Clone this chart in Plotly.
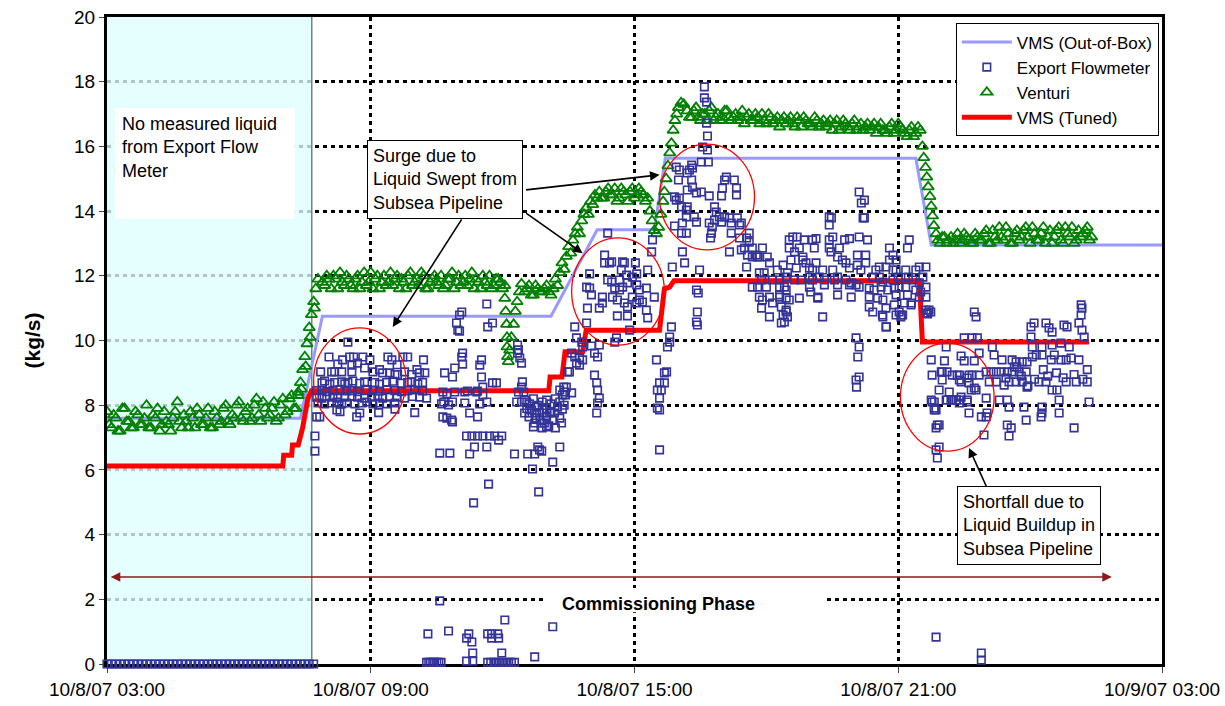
import pandas as pd
import plotly.graph_objects as go

# Time origin of the record: hours below are measured from 10/8/07 03:00
T0 = pd.Timestamp("2007-10-08 03:00")


def ts(h):
    return (T0 + pd.Timedelta(hours=h)).strftime("%Y-%m-%d %H:%M:%S")


# ---------------- VMS (Out-of-Box) ----------------
OOB_H = [0.0, 4.4, 4.9, 10.1, 11.15, 12.45, 12.7, 18.4, 18.75, 24.0]
OOB_V = [7.6, 7.6, 10.75, 10.75, 13.42, 13.42, 15.63, 15.63, 12.95, 12.95]

# ---------------- VMS (Tuned) ----------------
TUNED_H = [0.0, 4.0, 4.02, 4.2, 4.22, 4.35, 4.45, 4.5, 4.57, 4.65, 10.05, 10.08,
           10.35, 10.42, 10.82, 10.9, 12.57, 12.68, 12.8, 12.9, 18.48, 18.55, 22.34]
TUNED_V = [6.12, 6.12, 6.45, 6.45, 6.77, 6.77, 7.3, 7.7, 8.2, 8.45, 8.45, 8.87,
           8.87, 9.65, 9.65, 10.32, 10.32, 11.6, 11.65, 11.85, 11.85, 9.95, 9.95]

# ---------------- Venturi ----------------
# steady periods are logged every 6 minutes; the "_B" lists are the
# readings taken 3 minutes after each of the main samples
VENT_SAMPLE_H = 0.1
VENT_BASE_START = 0.0
VENT_BASE = [7.8, 7.3, 7.6, 7.2, 7.9, 7.5, 7.3, 7.7, 7.4, 8.0,
             7.3, 7.6, 7.2, 7.8, 7.4, 7.6, 8.1, 7.3, 7.5, 7.8,
             7.3, 7.7, 7.4, 7.9, 7.3, 7.6, 7.5, 8.0, 7.4, 7.6,
             8.1, 7.5, 7.9, 7.6, 8.2, 7.5, 7.9, 7.7, 8.1, 7.6,
             8.2, 7.8, 8.3, 7.9]
VENT_BASE_B_START = 0.05
VENT_BASE_B = [7.4, 7.7, 7.2, 7.9, 7.5, 7.3, 7.8, 7.4, 7.6, 7.3,
               7.7, 7.9, 7.4, 7.5, 7.2, 7.8, 7.5, 7.7, 7.3, 7.6,
               7.9, 7.4, 7.6, 7.3, 7.8, 7.4, 7.9, 7.5, 7.7, 8.0,
               7.6, 7.8, 7.5, 8.0, 7.7, 8.1, 7.6, 7.9, 7.5, 8.0,
               7.7, 8.2, 7.9, 8.4]
VENT_HIGH1_START = 4.9
VENT_HIGH1 = [11.8, 12.0, 11.6, 11.9, 12.1, 11.7, 11.9, 11.6, 12.0, 11.8,
              11.7, 12.1, 11.9, 11.6, 12.0, 11.8, 11.7, 12.0, 11.9, 11.6,
              12.1, 11.8, 11.7, 12.0, 11.6, 11.9, 11.8, 12.0, 11.7, 11.9,
              11.6, 12.0, 11.8, 11.7, 12.1, 11.9, 11.6, 11.8, 12.0, 11.7,
              11.9, 11.6]
VENT_HIGH1_B_START = 4.95
VENT_HIGH1_B = [11.7, 11.9, 12.0, 11.6, 11.8, 12.0, 11.7, 11.9, 11.6, 12.1,
                11.8, 11.6, 12.0, 11.8, 11.7, 12.1, 11.9, 11.6, 11.8, 12.0,
                11.7, 11.9, 12.1, 11.6, 11.8, 12.0, 11.7, 11.6, 11.9, 12.1,
                11.8, 11.7, 12.0, 11.9, 11.6, 11.8, 12.0, 11.7, 11.6, 11.9,
                11.8, 11.7]
VENT_MID_START = 9.5
VENT_MID = [11.5, 11.7, 11.4, 11.6, 11.5, 11.7, 11.4]
VENT_MID_B_START = 9.55
VENT_MID_B = [11.6, 11.4, 11.7, 11.5, 11.6, 11.5]
VENT_HIGH2_START = 11.2
VENT_HIGH2 = [14.6, 14.4, 14.7, 14.5, 14.3, 14.7, 14.5, 14.6, 14.4, 14.7, 14.5, 14.4]
VENT_HIGH2_B_START = 11.25
VENT_HIGH2_B = [14.4, 14.6, 14.5, 14.7, 14.4, 14.6, 14.3, 14.7, 14.5, 14.6, 14.3]
VENT_PEAK_START = 13.2
VENT_PEAK = [17.1, 16.9, 17.2, 16.8, 17.0, 17.1, 16.8, 17.0, 16.9, 17.1,
             16.8, 17.0, 16.9, 16.7, 17.0, 16.8, 16.9, 17.0, 16.7, 16.9,
             16.8, 16.6, 16.9, 16.8, 16.7, 16.9, 16.6, 16.8, 16.7, 16.9,
             16.6, 16.8, 16.7, 16.5, 16.8, 16.6, 16.7, 16.5, 16.8, 16.6,
             16.5, 16.7, 16.6, 16.4, 16.7, 16.5, 16.6, 16.4, 16.7, 16.5,
             16.3, 16.6, 16.4, 16.5]
VENT_PEAK_B_START = 13.25
VENT_PEAK_B = [16.9, 17.1, 16.9, 17.0, 16.8, 17.2, 16.9, 16.8, 17.1, 16.9,
               16.9, 16.8, 17.1, 16.9, 16.8, 17.0, 16.7, 16.8, 17.0, 16.7,
               16.9, 16.8, 16.7, 16.9, 16.6, 16.8, 16.9, 16.7, 16.6, 16.8,
               16.7, 16.6, 16.8, 16.7, 16.5, 16.8, 16.6, 16.7, 16.5, 16.7,
               16.6, 16.5, 16.7, 16.6, 16.5, 16.4, 16.7, 16.5, 16.6, 16.4,
               16.5, 16.3, 16.6]
VENT_LOW_START = 18.9
VENT_LOW = [13.1, 13.2, 13.0, 13.2, 13.1, 13.0, 13.3, 13.1, 13.0, 13.2,
            13.1, 13.4, 13.0, 13.2, 13.5, 13.1, 13.3, 13.0, 13.4, 13.2,
            13.5, 13.0, 13.3, 13.1, 13.5, 13.2, 13.0, 13.4, 13.1, 13.5,
            13.2, 13.0, 13.4, 13.3, 13.5, 13.2]
VENT_LOW_B_START = 18.95
VENT_LOW_B = [13.0, 13.2, 13.1, 13.0, 13.3, 13.1, 13.2, 13.0, 13.3, 13.1,
              13.3, 13.0, 13.4, 13.1, 13.2, 13.5, 13.0, 13.3, 13.1, 13.4,
              13.2, 13.5, 13.1, 13.3, 13.0, 13.4, 13.2, 13.5, 13.0, 13.3,
              13.5, 13.1, 13.2, 13.4, 13.1]
# transients (hour, kg/s)
VENT_RAMP1 = [(4.35, 8.3), (4.40, 8.7), (4.45, 9.1), (4.50, 9.5), (4.55, 9.9),
              (4.60, 10.4), (4.65, 10.8), (4.70, 11.2), (4.75, 11.6), (4.80, 11.9),
              (4.42, 8.5), (4.52, 9.2), (4.62, 10.1), (4.72, 11.0)]
VENT_DIP1 = [(9.05, 11.3), (9.07, 10.9), (9.09, 10.5), (9.10, 10.1), (9.10, 9.8),
             (9.11, 9.5), (9.13, 9.35), (9.16, 9.7), (9.20, 10.1), (9.25, 10.5),
             (9.29, 10.9), (9.33, 11.2), (9.38, 11.5), (9.43, 11.75)]
VENT_RAMP2 = [(10.15, 11.6), (10.2, 11.9), (10.25, 11.7), (10.3, 12.1), (10.35, 12.4),
              (10.4, 12.2), (10.45, 12.6), (10.5, 12.9), (10.55, 12.7), (10.6, 13.1),
              (10.65, 13.3), (10.7, 13.5), (10.75, 13.3), (10.8, 13.7), (10.85, 13.9),
              (10.9, 14.1), (10.95, 13.9), (11.0, 14.3), (11.05, 14.2), (11.1, 14.5),
              (11.15, 14.4)]
VENT_RAMP3 = [(12.35, 14.0), (12.4, 13.7), (12.45, 13.4), (12.5, 13.3), (12.55, 13.5),
              (12.6, 13.9), (12.65, 14.3), (12.68, 14.6), (12.72, 15.0), (12.76, 15.4),
              (12.8, 15.8), (12.84, 16.1), (12.88, 16.5), (12.92, 16.8), (12.96, 17.0),
              (13.0, 17.2), (13.06, 17.35), (13.12, 17.3)]
VENT_DROP = [(18.55, 16.0), (18.58, 15.65), (18.62, 15.35), (18.65, 15.05), (18.68, 14.75),
             (18.72, 14.45), (18.75, 14.15), (18.78, 13.85), (18.81, 13.55), (18.86, 13.3)]

# ---------------- Export Flowmeter ----------------
FLOW_OFFLINE_START = 0.0
FLOW_OFFLINE_STEP = 0.1
FLOW_OFFLINE = [0.0, 0.0, 0.0, 0.0, 0.0, 0.0, 0.0, 0.0, 0.0, 0.0, 0.0, 0.0,
                0.0, 0.0, 0.0, 0.0, 0.0, 0.0, 0.0, 0.0, 0.0, 0.0, 0.0, 0.0,
                0.0, 0.0, 0.0, 0.0, 0.0, 0.0, 0.0, 0.0, 0.0, 0.0, 0.0, 0.0,
                0.0, 0.0, 0.0, 0.0, 0.0, 0.0, 0.0, 0.0, 0.0, 0.0, 0.0, 0.0]

FLOW_SURGE1 = [
    (4.73, 7.05), (4.73, 6.58), (4.77, 7.64), (4.84, 7.64),
    (5.05, 9.49), (5.48, 9.95), (5.36, 9.40), (5.52, 9.49), (5.61, 9.49), (5.82, 9.49),
    (5.98, 9.40), (6.39, 9.49), (6.48, 9.40), (6.73, 9.49), (6.84, 9.49), (7.20, 9.40),
    (5.25, 9.27), (5.57, 9.24), (5.70, 9.30), (5.86, 9.15), (6.60, 9.25),
    (4.86, 9.03), (5.11, 9.03), (5.18, 9.03), (5.34, 9.03), (5.57, 9.03), (6.05, 9.03),
    (6.20, 9.10), (6.27, 9.00), (6.43, 9.00), (6.55, 8.95), (6.61, 8.95), (6.77, 9.03),
    (6.93, 8.95), (7.05, 9.10), (7.11, 9.00), (7.23, 9.00),
    (4.89, 8.69), (4.95, 8.75), (5.07, 8.65), (5.18, 8.70), (5.34, 8.72), (5.41, 8.66),
    (5.48, 8.70), (5.59, 8.75), (5.75, 8.68), (5.86, 8.72), (6.09, 8.70), (6.20, 8.65),
    (6.36, 8.70), (6.50, 8.74), (6.70, 8.68), (6.84, 8.70), (6.93, 8.72), (7.07, 8.66),
    (7.18, 8.70),
    (4.77, 8.45), (4.89, 8.47), (5.00, 8.42), (5.14, 8.45), (5.30, 8.48), (5.45, 8.44),
    (5.57, 8.45), (5.70, 8.42), (5.91, 8.47), (6.05, 8.45), (6.20, 8.44), (6.36, 8.48),
    (6.55, 8.45), (6.70, 8.42), (6.84, 8.45), (7.00, 8.47), (7.18, 8.44),
    (4.77, 8.25), (4.89, 8.22), (5.00, 8.27), (5.14, 8.25), (5.25, 8.22), (5.41, 8.25),
    (5.57, 8.28), (5.70, 8.25), (5.86, 8.22), (6.02, 8.25), (6.16, 8.27), (6.27, 8.22),
    (6.43, 8.25), (6.59, 8.25), (6.77, 8.22), (6.95, 8.27), (7.11, 8.25), (7.27, 8.22),
    (4.80, 8.07), (4.95, 8.04), (5.11, 8.07), (5.23, 8.10), (5.34, 8.04), (5.45, 8.07),
    (5.64, 8.04), (5.80, 8.07), (5.91, 8.10), (6.05, 8.04), (6.20, 8.07), (6.36, 8.04),
    (6.55, 8.07),
    (5.23, 7.85), (5.30, 7.80), (5.75, 7.76), (5.68, 7.64), (6.18, 7.77), (6.55, 7.88),
    (7.00, 7.77),
]

FLOW_MID = [
    (7.95, 10.54), (7.98, 10.32), (8.02, 10.29), (8.02, 10.79), (8.07, 10.88), (8.64, 11.13),
    (8.66, 10.42), (8.77, 10.54),
    (8.09, 9.61), (8.07, 9.49), (8.09, 9.27), (8.52, 9.40), (8.48, 9.24),
    (7.68, 9.00), (7.91, 9.15), (7.86, 8.87), (8.52, 8.87), (8.55, 8.56), (8.77, 8.69),
    (8.86, 8.69),
    (7.64, 8.41), (7.73, 8.35), (7.91, 8.41), (8.14, 8.41), (8.20, 8.44), (8.41, 8.41),
    (8.43, 8.44), (8.55, 8.32),
    (7.61, 8.04), (7.66, 8.10), (7.77, 8.01), (7.86, 8.10), (8.14, 8.07), (8.48, 8.04),
    (8.64, 8.10),
    (7.64, 7.64), (7.73, 7.60), (7.84, 7.54), (7.86, 7.48), (8.25, 7.76), (8.43, 7.64),
    (8.18, 7.05), (8.30, 7.05), (8.43, 7.05), (8.55, 7.05), (8.70, 7.05), (8.82, 7.05),
    (8.98, 7.05), (8.91, 6.92),
    (7.57, 6.52), (7.80, 6.52), (8.25, 6.49), (8.36, 6.71), (8.64, 6.71), (8.34, 4.98),
    (8.68, 5.56),
    (9.27, 6.49), (9.57, 6.49), (9.73, 6.49), (9.80, 6.71), (9.89, 6.58), (9.68, 6.03),
    (9.82, 5.32),
    (9.34, 9.86), (9.36, 9.71), (9.34, 9.61), (9.39, 9.46), (9.43, 9.30),
    (9.45, 8.72), (9.36, 8.41), (9.48, 8.41), (9.43, 8.56), (9.32, 8.10), (9.43, 8.10),
    (9.55, 8.10),
    (9.50, 7.76), (9.61, 7.76), (9.73, 7.76), (9.84, 7.76), (9.95, 7.76), (10.07, 7.76),
    (10.18, 7.76), (9.73, 7.45), (9.89, 7.45), (9.95, 7.45),
    (9.50, 8.16), (9.61, 8.04), (9.70, 8.20), (9.80, 8.00), (9.90, 8.10), (10.00, 8.16),
    (10.10, 8.04), (10.20, 8.20), (10.30, 8.10), (10.40, 8.00),
    (9.55, 7.90), (9.66, 7.85), (9.77, 7.94), (9.90, 7.85), (10.00, 7.90), (10.10, 7.80),
    (10.25, 7.94), (10.36, 7.88),
    (9.60, 7.64), (9.75, 7.60), (9.85, 7.55), (10.00, 7.64), (10.15, 7.55), (10.30, 7.60),
    (9.70, 7.33), (9.90, 7.30), (10.05, 7.36), (10.20, 7.30), (10.34, 7.45), (10.00, 7.33),
    (10.30, 6.71), (10.14, 6.24), (9.84, 6.62),
    (10.30, 8.47), (10.36, 8.32), (10.43, 8.32), (10.39, 8.56), (10.45, 8.56), (10.57, 8.38),
    (10.41, 8.41), (10.48, 9.03), (10.52, 9.03),
]

FLOW_SURGE2 = [
    (10.57, 9.61), (10.64, 9.49), (10.75, 9.46), (11.09, 9.61), (11.16, 9.49), (10.68, 9.30),
    (10.82, 9.40), (10.75, 9.24),
    (11.09, 8.93), (11.14, 8.69), (11.16, 8.47), (11.20, 8.22), (11.16, 8.07), (11.14, 7.76),
    (10.68, 10.08), (10.80, 9.95), (10.82, 9.80), (11.02, 9.83), (11.20, 9.86), (11.59, 10.08),
    (11.55, 9.95),
    (10.64, 10.42), (10.91, 10.54), (11.89, 10.32),
    (11.61, 10.76), (11.84, 10.76), (12.27, 10.94), (12.30, 10.70),
    (10.93, 11.00), (11.20, 11.00), (11.27, 11.16), (11.77, 11.16), (11.84, 11.04), (12.05, 11.16),
    (11.27, 11.34), (11.50, 11.34), (11.61, 11.25), (11.95, 11.34), (12.11, 11.25), (12.18, 11.19),
    (10.91, 11.65), (10.98, 11.62), (11.02, 11.41), (11.55, 11.62), (11.66, 11.56), (11.73, 11.65),
    (11.84, 11.78), (12.05, 11.72), (12.11, 11.56), (12.27, 11.62), (12.45, 11.34),
    (11.39, 11.87), (11.48, 11.81), (11.66, 11.87), (11.82, 12.02), (11.95, 11.96), (12.05, 12.06),
    (10.98, 12.06), (12.30, 12.18),
    (11.32, 12.64), (11.43, 12.40), (11.32, 12.40), (11.48, 12.43), (11.73, 12.43), (11.70, 12.18),
    (11.77, 12.40), (12.02, 12.40), (11.39, 13.32),
    (12.41, 13.11), (12.39, 12.74),
    (12.50, 9.40), (12.73, 9.03), (12.68, 9.00), (12.57, 8.69), (12.68, 8.69), (12.52, 8.47),
    (12.61, 8.47), (12.57, 8.22), (12.52, 7.91), (12.57, 7.85), (12.57, 6.62),
    (12.80, 10.11), (12.75, 9.80), (12.80, 9.95), (12.84, 10.42),
    (12.86, 12.27), (13.14, 12.40), (13.09, 12.74), (13.48, 12.18),
    (13.41, 11.56), (13.45, 11.47), (13.43, 10.88), (13.43, 10.48), (13.41, 10.57),
]

FLOW_SURGE3 = [
    (13.59, 17.84), (13.59, 17.50), (13.64, 17.37), (13.64, 16.72), (13.66, 16.32),
    (13.55, 15.98), (13.66, 15.89), (13.52, 15.52), (13.68, 15.52),
    (12.95, 15.36), (13.02, 15.27), (13.30, 15.42), (13.32, 15.33), (13.25, 15.27), (13.20, 15.18),
    (13.00, 14.96), (13.30, 14.96), (13.32, 14.74), (13.20, 14.65), (13.02, 14.40), (13.41, 14.56),
    (13.52, 14.59),
    (13.70, 14.47), (13.98, 14.47), (14.00, 14.71), (14.05, 14.96), (14.09, 15.05), (14.27, 14.96),
    (14.32, 14.71), (14.32, 14.50),
    (12.91, 14.44), (12.95, 14.34), (13.07, 14.13), (13.20, 14.13), (13.18, 14.03), (13.36, 13.82),
    (13.41, 13.66), (13.18, 13.82),
    (13.82, 14.13), (13.86, 13.97), (13.70, 13.63), (13.82, 13.72), (13.93, 13.82), (13.98, 13.66),
    (14.05, 13.82), (14.16, 13.79), (14.20, 13.63), (14.34, 13.79), (14.39, 13.57), (14.43, 13.63),
    (13.77, 13.51),
    (13.09, 13.63), (13.07, 13.32), (13.18, 13.32), (12.91, 13.54), (13.75, 13.32), (13.73, 13.17),
    (14.20, 13.32), (14.39, 13.17), (14.61, 13.32), (14.55, 13.17), (14.43, 12.80), (14.50, 12.86),
    (14.61, 13.04), (14.57, 12.64), (14.68, 12.58), (14.80, 12.58), (14.55, 12.27), (14.16, 12.74),
    (14.68, 12.86), (14.77, 12.64), (14.91, 12.86), (15.02, 12.58), (15.07, 12.40),
    (14.84, 12.09), (14.95, 12.09), (15.14, 11.87), (15.30, 11.87), (14.89, 11.87),
    (14.68, 11.65), (14.80, 11.65), (15.00, 11.65),
    (14.84, 11.34), (15.07, 11.34), (14.91, 11.25), (15.14, 11.16), (15.30, 11.34), (15.45, 11.56),
    (15.52, 11.25), (15.45, 10.94), (15.48, 10.73),
    (14.89, 11.00), (15.07, 10.73), (15.34, 10.54), (14.84, 12.58), (15.25, 12.18),
]

FLOW_HIGH = [
    (17.11, 14.59), (17.16, 14.25), (17.23, 14.34),
    (16.43, 13.82), (16.48, 13.79), (16.43, 13.57), (17.23, 13.79), (17.20, 13.79),
    (15.60, 13.20), (15.52, 13.11), (15.70, 13.20), (15.86, 13.11), (16.05, 13.11), (16.13, 13.15),
    (16.43, 13.11), (16.51, 13.20), (16.78, 13.11), (16.89, 13.15), (17.11, 13.20), (17.30, 13.11),
    (18.25, 13.11),
    (15.52, 12.86), (15.64, 12.74), (15.75, 12.86), (16.09, 12.86), (16.43, 12.86), (16.47, 12.74),
    (16.66, 12.86), (17.07, 12.64), (17.26, 12.64), (17.80, 12.86), (18.21, 12.86), (17.88, 12.64),
    (17.80, 12.49),
    (15.38, 12.33), (15.56, 12.49), (15.48, 12.09), (15.83, 12.58), (15.83, 12.49), (15.68, 12.24),
    (15.90, 12.40), (15.98, 12.24), (16.05, 12.18), (16.13, 12.40), (16.28, 12.18), (16.51, 12.18),
    (16.62, 12.58), (16.73, 12.49), (16.81, 12.40), (16.89, 12.24), (17.07, 12.33), (17.15, 12.18),
    (17.26, 12.40), (17.49, 12.18), (17.57, 12.27), (17.72, 12.27), (17.88, 12.18), (17.95, 12.49),
    (17.95, 12.18), (18.17, 12.18), (18.40, 12.18), (18.48, 12.27), (18.63, 12.27),
    (15.45, 11.96), (15.64, 11.87), (15.79, 11.87), (15.98, 11.96), (16.05, 11.87), (16.20, 11.96),
    (16.32, 11.87), (16.55, 11.87), (16.62, 11.96), (16.81, 11.87), (16.93, 11.78), (17.04, 11.72),
    (17.42, 11.96), (17.57, 11.96), (17.65, 11.81), (17.88, 11.87), (18.00, 11.96), (18.23, 11.96),
    (18.33, 11.87), (18.48, 11.78), (18.56, 11.96),
    (15.30, 11.65), (15.41, 11.65), (15.98, 11.65), (16.01, 11.50), (16.17, 11.34), (16.32, 11.72),
    (16.62, 11.72), (16.89, 11.72), (17.11, 11.65), (17.34, 11.62), (17.45, 11.56), (17.61, 11.65),
    (17.76, 11.56), (17.91, 11.62), (18.02, 11.65), (18.17, 11.65), (18.40, 11.56), (18.51, 11.50),
    (18.63, 11.65),
    (15.30, 11.41), (15.45, 11.31), (15.75, 11.31), (16.17, 11.31), (16.62, 11.41), (16.93, 11.34),
    (17.34, 11.34), (17.53, 11.31), (17.65, 11.25), (17.95, 11.41), (18.21, 11.41), (18.48, 11.34),
    (18.63, 11.34),
    (15.34, 11.04), (15.45, 10.88), (15.38, 10.79), (15.41, 10.57), (16.28, 10.73), (17.34, 11.04),
    (17.42, 10.88), (17.72, 11.00), (17.65, 10.73), (18.02, 10.88), (18.06, 10.73), (18.10, 10.79),
    (18.29, 11.10), (18.63, 10.94), (18.74, 10.88), (18.67, 10.82),
    (17.72, 10.42), (17.04, 10.08), (17.11, 9.80), (17.08, 9.49), (17.11, 8.87), (17.04, 8.78),
    (17.05, 8.56),
    (17.91, 11.10), (17.95, 10.79), (17.64, 10.79), (17.73, 10.42), (18.07, 10.79), (18.14, 11.16),
    (18.30, 11.16), (18.70, 10.94), (18.66, 10.85),
]

FLOW_LATE = [
    (18.75, 9.40), (19.05, 9.37), (19.43, 9.52), (19.50, 9.37), (19.73, 9.37),
    (18.77, 8.93), (19.00, 9.03), (19.11, 9.03), (19.23, 8.93), (19.00, 8.78), (19.39, 8.93),
    (19.43, 8.72), (19.57, 8.84), (19.61, 8.69), (19.68, 8.93), (19.73, 8.53),
    (18.93, 8.47), (19.16, 8.41), (19.23, 8.16), (19.11, 8.16), (19.32, 8.16), (19.39, 8.07),
    (19.43, 8.25), (19.57, 8.10), (19.66, 8.47), (19.77, 8.47),
    (18.77, 8.10), (18.82, 7.91), (18.86, 7.85), (19.61, 7.76), (18.86, 7.30), (18.93, 7.39),
    (18.93, 6.71), (18.86, 6.62), (18.89, 6.37),
    (19.50, 10.08), (19.68, 10.08), (19.80, 10.08), (19.09, 9.80), (19.84, 9.61), (20.14, 9.80),
    (20.18, 9.55), (20.36, 9.40),
    (20.11, 9.03), (20.23, 9.03), (20.34, 9.03), (20.48, 9.03), (20.59, 9.03), (20.75, 9.03),
    (20.91, 9.03),
    (20.59, 9.40), (20.68, 9.34), (20.82, 9.34), (20.64, 9.18), (20.70, 9.18), (20.93, 9.34),
    (21.05, 9.49), (21.14, 9.55), (21.27, 9.55), (21.48, 9.40), (21.55, 9.55), (21.70, 9.40),
    (21.82, 9.40), (21.93, 9.46), (22.11, 9.40),
    (21.05, 9.80), (21.27, 9.80), (21.50, 9.86), (21.70, 9.92), (21.89, 9.80),
    (21.02, 10.11), (21.02, 10.42), (21.09, 10.54), (21.36, 10.54), (21.43, 10.39), (21.50, 10.26),
    (21.77, 10.48), (21.84, 10.42), (22.11, 10.54), (22.18, 10.32), (22.23, 10.11), (22.16, 10.79),
    (22.16, 11.10), (22.18, 11.00),
    (19.73, 10.88), (19.77, 10.73),
    (20.07, 8.72), (20.23, 8.72), (20.41, 8.62), (20.52, 8.72), (20.68, 8.72), (20.82, 8.72),
    (20.93, 8.56), (21.20, 8.72), (21.36, 8.72), (21.50, 8.47), (21.61, 8.47), (21.82, 8.72),
    (22.05, 8.72), (22.30, 8.72),
    (18.75, 8.16), (18.82, 8.10), (19.09, 8.16), (19.20, 8.16), (19.32, 8.16), (19.39, 8.16),
    (19.57, 8.16), (20.00, 8.22), (20.30, 8.16), (20.48, 8.16), (20.86, 7.94), (21.27, 7.94),
    (21.66, 8.16), (22.34, 8.10),
    (18.82, 7.85), (19.89, 7.64), (20.00, 7.64), (20.02, 7.76), (20.52, 7.94), (20.91, 7.54),
    (21.27, 7.76), (21.66, 7.76), (21.25, 7.64),
    (18.89, 7.39), (20.48, 7.39), (20.57, 7.30), (20.52, 7.05), (19.95, 7.08), (22.00, 7.30),
    (18.98, 9.03), (19.34, 8.93), (19.39, 8.78), (19.61, 8.93), (19.84, 8.93), (20.00, 9.03),
    (20.45, 8.84), (20.80, 8.90), (21.10, 8.80), (21.40, 8.90), (21.60, 9.00), (21.75, 8.85),
    (22.00, 8.95), (22.20, 8.80), (22.30, 9.10), (21.30, 9.10), (20.95, 8.60),
]

FLOW_NEAR_ZERO = [
    (7.27, 0.05), (7.32, 0.05), (7.36, 0.05), (7.41, 0.05), (7.45, 0.05), (7.50, 0.05),
    (7.55, 0.05), (7.60, 0.05),
    (7.30, 0.93), (7.57, 1.95), (7.77, 1.02), (8.18, 0.80), (8.23, 0.93), (8.30, 0.68),
    (8.32, 0.34), (8.18, 0.09), (8.32, 0.09),
    (8.66, 0.93), (8.75, 0.80), (8.89, 0.93), (8.91, 0.80), (8.75, 0.93), (8.98, 0.34),
    (9.05, 1.36), (9.73, 0.22), (10.14, 1.15),
    (8.66, 0.05), (8.73, 0.05), (8.80, 0.05), (8.86, 0.05), (8.93, 0.05), (9.00, 0.05),
    (9.07, 0.05), (9.14, 0.05), (9.20, 0.05), (9.27, 0.05),
    (18.86, 0.83), (19.89, 0.34), (19.89, 0.12),
]

# ---------------- axes ----------------
TICK_H = [0, 6, 12, 18, 24]
TICK_TEXT = ["10/8/07 03:00", "10/8/07 09:00", "10/8/07 15:00", "10/8/07 21:00", "10/9/07 03:00"]
Y_TICKS = [0, 2, 4, 6, 8, 10, 12, 14, 16, 18, 20]

FONT = "Arial, Liberation Sans, sans-serif"


def sampled(start, values):
    hours = [start + VENT_SAMPLE_H * i for i in range(len(values))]
    return hours, list(values)


def unzip(pairs):
    return [p[0] for p in pairs], [p[1] for p in pairs]


# assemble the venturi series
vent_h, vent_v = [], []
for part in (sampled(VENT_BASE_START, VENT_BASE), sampled(VENT_BASE_B_START, VENT_BASE_B),
             unzip(VENT_RAMP1),
             sampled(VENT_HIGH1_START, VENT_HIGH1), sampled(VENT_HIGH1_B_START, VENT_HIGH1_B),
             unzip(VENT_DIP1),
             sampled(VENT_MID_START, VENT_MID), sampled(VENT_MID_B_START, VENT_MID_B),
             unzip(VENT_RAMP2),
             sampled(VENT_HIGH2_START, VENT_HIGH2), sampled(VENT_HIGH2_B_START, VENT_HIGH2_B),
             unzip(VENT_RAMP3),
             sampled(VENT_PEAK_START, VENT_PEAK), sampled(VENT_PEAK_B_START, VENT_PEAK_B),
             unzip(VENT_DROP),
             sampled(VENT_LOW_START, VENT_LOW), sampled(VENT_LOW_B_START, VENT_LOW_B)):
    vent_h += part[0]
    vent_v += part[1]

flow_h = [FLOW_OFFLINE_START + FLOW_OFFLINE_STEP * i for i in range(len(FLOW_OFFLINE))]
flow_v = list(FLOW_OFFLINE)
for block in (FLOW_SURGE1, FLOW_MID, FLOW_SURGE2, FLOW_SURGE3, FLOW_HIGH, FLOW_LATE,
              FLOW_NEAR_ZERO):
    h, v = unzip(block)
    flow_h += h
    flow_v += v

fig = go.Figure()

fig.add_trace(go.Scatter(
    x=[ts(h) for h in OOB_H], y=OOB_V, mode="lines", name="VMS (Out-of-Box)",
    line=dict(color="#9999FF", width=3), legendrank=1))
fig.add_trace(go.Scatter(
    x=[ts(h) for h in vent_h], y=vent_v, mode="markers", name="Venturi",
    marker=dict(symbol="triangle-up-open", size=10, color="#008000",
                line=dict(width=1.8, color="#008000")), legendrank=3))
fig.add_trace(go.Scatter(
    x=[ts(h) for h in TUNED_H], y=TUNED_V, mode="lines", name="VMS (Tuned)",
    line=dict(color="#FF0000", width=5), legendrank=4))
fig.add_trace(go.Scatter(
    x=[ts(h) for h in flow_h], y=flow_v, mode="markers", name="Export Flowmeter",
    marker=dict(symbol="square-open", size=7.5, color="#333399",
                line=dict(width=1.6, color="#333399")),
    cliponaxis=False, legendrank=2))

shapes = [
    # period with no export flowmeter liquid reading
    dict(type="rect", xref="x", yref="y", x0=ts(0), x1=ts(4.66), y0=0, y1=20,
         fillcolor="rgba(222,255,255,0.78)", line=dict(width=0), layer="between"),
    dict(type="line", xref="x", yref="y", x0=ts(4.66), x1=ts(4.66), y0=0, y1=20,
         line=dict(color="#404040", width=1), layer="between"),
    dict(type="rect", xref="x", yref="y", x0=ts(0.18), x1=ts(4.27), y0=13.76, y1=17.19,
         fillcolor="white", line=dict(width=0), layer="between"),
    dict(type="rect", xref="x", yref="y", x0=ts(9.95), x1=ts(16.32), y0=1.6, y1=2.35,
         fillcolor="white", line=dict(width=0), layer="between"),
]
for (h0, h1, v0, v1) in [(4.7, 6.8, 7.11, 10.39), (10.57, 12.68, 9.86, 13.17),
                         (12.57, 14.73, 12.8, 16.07), (18.05, 20.18, 6.58, 9.92)]:
    shapes.append(dict(type="circle", xref="x", yref="y", x0=ts(h0), x1=ts(h1), y0=v0, y1=v1,
                       line=dict(color="#FF0000", width=1.3), layer="above"))

box = dict(bordercolor="black", borderwidth=1, bgcolor="white", borderpad=5,
           align="left", showarrow=False, font=dict(size=18, color="black"))
annotations = [
    dict(x=ts(0.3), y=17.06, xref="x", yref="y", xanchor="left", yanchor="top",
         text="No measured liquid<br>from Export Flow<br>Meter", align="left",
         showarrow=False, font=dict(size=18, color="black")),
    dict(x=ts(7.68), y=14.99, xref="x", yref="y",
         text="Surge due to<br>Liquid Swept from<br>Subsea Pipeline", **box),
    dict(x=ts(20.98), y=4.28, xref="x", yref="y",
         text="Shortfall due to<br>Liquid Buildup in<br>Subsea Pipeline", **box),
    dict(x=ts(12.55), y=1.85, xref="x", yref="y", text="<b>Commissioning Phase</b>",
         showarrow=False, font=dict(size=18, color="black")),
    dict(x=ts(22.86), y=2.69, ax=ts(0.05), ay=2.69, xref="x", yref="y", axref="x", ayref="y",
         text="", showarrow=True, arrowhead=2, startarrowhead=2, arrowside="end+start",
         arrowsize=1.2, arrowwidth=1.6, arrowcolor="#8B1A1A"),
]
for (hx, hv, tx, tv) in [(6.5, 10.42, 8.09, 13.79), (12.57, 15.12, 9.5, 14.65),
                         (10.82, 12.7, 9.5, 13.97), (19.61, 6.68, 20.02, 5.44)]:
    annotations.append(dict(x=ts(hx), y=hv, ax=ts(tx), ay=tv, xref="x", yref="y",
                            axref="x", ayref="y", text="", showarrow=True, arrowhead=2,
                            arrowsize=1.2, arrowwidth=1.6, arrowcolor="black"))

grid = dict(showgrid=True, gridcolor="black", gridwidth=2.5, griddash="4px,4px")

fig.update_layout(
    width=1225, height=706,
    margin=dict(l=107, r=63, t=17, b=42),
    paper_bgcolor="white", plot_bgcolor="white",
    font=dict(family=FONT, color="black"),
    shapes=shapes, annotations=annotations,
    legend=dict(x=0.997, y=0.99, xanchor="right", yanchor="top", bgcolor="white",
                bordercolor="black", borderwidth=1, font=dict(size=17),
                tracegroupgap=0, itemwidth=50),
    xaxis=dict(type="date", range=[ts(0), ts(24)], tickvals=[ts(h) for h in TICK_H],
               ticktext=TICK_TEXT, ticks="outside", ticklen=6, tickwidth=1,
               tickfont=dict(size=19), showline=True, linewidth=3, linecolor="black",
               mirror=True, zeroline=False, layer="below traces", automargin=False,
               **grid),
    yaxis=dict(range=[0, 20], tickvals=Y_TICKS, ticks="outside", ticklen=5, tickwidth=1,
               tickfont=dict(size=19), showline=True, linewidth=3, linecolor="black",
               mirror=True, zeroline=False, layer="below traces", automargin=False,
               title=dict(text="<b>(kg/s)</b>", font=dict(size=21), standoff=28), **grid),
)

fig.write_html("out.html")
